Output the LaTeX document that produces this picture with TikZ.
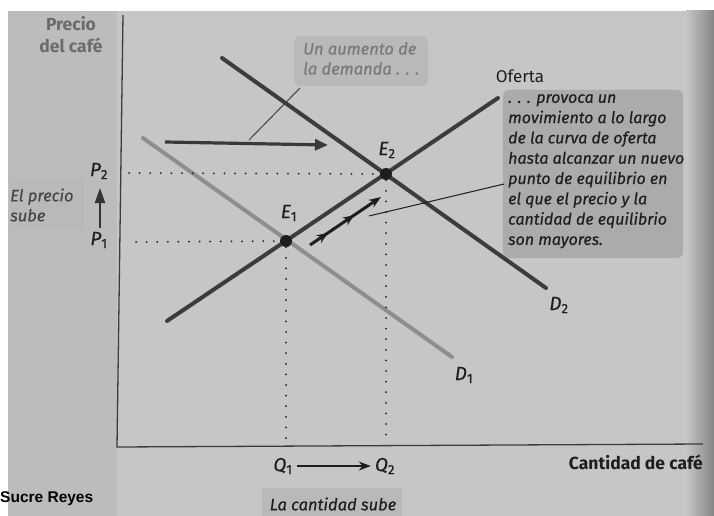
\documentclass[tikz,border=0pt]{standalone}
\usepackage{fontspec}
\setmainfont{Fira Sans}
\newfontfamily\mfont{Fira Sans}[FakeBold=0.4]
\newfontfamily\arialfont{Liberation Sans}
\usetikzlibrary{arrows.meta,decorations.markings}
\definecolor{bgc}{HTML}{C6C6C6}
\definecolor{bgleft}{HTML}{BCBCBC}
\definecolor{boxA}{HTML}{B9B9B9}
\definecolor{boxB}{HTML}{ABABAB}
\definecolor{ink}{HTML}{1E1E1E}
\definecolor{darkline}{HTML}{3C3C3C}
\definecolor{lightline}{HTML}{8E8E8E}
\definecolor{edge}{HTML}{858585}
\newcommand{\eqlab}[2]{\textit{#1}\textsubscript{#2}}
\tikzset{
  curve/.style={line width=4pt, line cap=round},
  dotline/.style={line width=2pt, line cap=round, dash pattern=on 0pt off 10.6pt, ink},
  lbl/.style={font=\mfont\fontsize{19}{21}\selectfont, text=ink, inner sep=0pt},
  eqdot/.style={circle, fill=ink, minimum size=12pt, inner sep=0pt},
  callout/.style={rounded corners=6pt},
  leader/.style={line width=1pt, ink}
}
\begin{document}
\begin{tikzpicture}[x=1pt,y=-1pt]
\useasboundingbox (0,0) rectangle (714,516);
% page
\fill[white] (0,0) rectangle (714,516);
\fill[bgc] (8,11) rectangle (714,516);
\fill[bgleft] (8,11) rectangle (117,516);
\shade[left color=bgc, right color=edge] (686,11) rectangle (714,516);
% boxes
\fill[boxA, callout] (294,36) rectangle (428,86);
\fill[boxB, callout] (503,90) rectangle (683,258);
\fill[boxA] (10,178) rectangle (84,230);
\fill[boxA] (262,488) rectangle (402,516);
% axes
\coordinate (ytop) at (123,15);
\coordinate (orig) at (117,447);
\coordinate (xend) at (703,444);
\draw[line width=1.3pt, darkline] (ytop) -- (orig) -- (xend);
% curves
\coordinate (d1a) at (143,138); \coordinate (d1b) at (452,357);
\coordinate (d2a) at (222,58);  \coordinate (d2b) at (546,288);
\coordinate (sa) at (167,321);  \coordinate (sb) at (498,98);
\draw[curve, lightline] (d1a) -- (d1b);
\draw[curve, darkline] (d2a) -- (d2b);
\draw[curve, darkline] (sa) -- (sb);
% equilibrium points
\node[eqdot] (e1) at (286,241) {};
\node[eqdot] (e2) at (386,174) {};
% dotted guides
\coordinate (p2s) at (129,173);
\coordinate (p1s) at (136,242);
\coordinate (q1e) at (286,440);
\coordinate (q2e) at (386,436);
\draw[dotline] (p2s) -- (e2);
\draw[dotline] (p1s) -- (e1);
\draw[dotline] (e1) -- (q1e);
\draw[dotline] (e2) -- (q2e);
% horizontal shift arrow
\coordinate (ha) at (165,142);
\coordinate (hb) at (328,145);
\draw[line width=3.2pt, color=gray!45!black, -{Triangle[length=13pt,width=11pt]}] (ha) -- (hb);
% movement arrow along supply
\coordinate (ma) at (310,245);
\coordinate (mb) at (381,197);
\draw[line width=3pt, ink,
  decoration={markings,
    mark=at position 0.25 with {\arrow{Stealth[length=11pt,width=9pt]}},
    mark=at position 0.62 with {\arrow{Stealth[length=11pt,width=9pt]}}},
  postaction=decorate, -{Stealth[length=12pt,width=9pt]}] (ma) -- (mb);
% labels
\node[lbl] (lE1) at (289,213) {\eqlab{E}{1}};
\node[lbl] (lE2) at (387,150) {\eqlab{E}{2}};
\node[lbl] (lP2) at (99,171) {\eqlab{P}{2}};
\node[lbl] (lP1) at (99,240) {\eqlab{P}{1}};
\node[lbl] (lQ1) at (283,466) {\eqlab{Q}{1}};
\node[lbl] (lQ2) at (385,466) {\eqlab{Q}{2}};
\node[lbl] (lD1) at (464,375) {\eqlab{D}{1}};
\node[lbl] (lD2) at (559,305) {\eqlab{D}{2}};
\coordinate (pa) at (100,228);
\coordinate (pb) at (100,188);
\draw[line width=2pt, color=gray!40!black, -{Triangle[length=15pt,width=10pt]}] (pa) -- (pb);
\draw[line width=1.4pt, ink, -{Stealth[length=12pt,width=9pt]}] ([xshift=4pt]lQ1.east) -- ([xshift=-4pt]lQ2.west);
\node[inner sep=0pt, font=\fontsize{17}{19}\selectfont, text=ink] (oferta) at (520,76) {Oferta};
\node[inner sep=0pt, font=\bfseries\fontsize{17.5}{22}\selectfont, text=gray!85!black, align=center] (ptitle) at (71,35) {Precio\\del café};
\node[inner sep=0pt, anchor=east, font=\bfseries\fontsize{17.5}{19}\selectfont, text=ink] (xtitle) at (703,462) {Cantidad de café};
\node[inner sep=0pt, anchor=west, font=\mfont\itshape\fontsize{16.5}{20}\selectfont, text=gray!55!black, align=left] (precsube) at (10,205) {El precio\\sube};
\node[inner sep=0pt, font=\mfont\itshape\fontsize{16.5}{18}\selectfont, text=ink] (cantsube) at (333,504) {La cantidad sube};
\node[inner sep=0pt, anchor=north west, font=\mfont\itshape\fontsize{16.5}{20}\selectfont, text=gray!95!black, align=left] (aumento) at (303,42) {Un aumento de\\la demanda . . .};
\node[inner sep=0pt, anchor=north west, font=\mfont\itshape\fontsize{16}{20.3}\selectfont, text=ink, align=left] (provoca) at (508,94) {. . . provoca un\\movimiento a lo largo\\de la curva de oferta\\hasta alcanzar un nuevo\\punto de equilibrio en\\el que el precio y la\\cantidad de equilibrio\\son mayores.};
% leaders
\coordinate (l1a) at (300,88); \coordinate (l1b) at (249,140);
\draw[leader, color=gray!50!black] (l1a) -- (l1b);
\coordinate (l2a) at (504,184); \coordinate (l2b) at (369,216);
\draw[leader] (l2a) -- (l2b);
% credit
\node[inner sep=0pt, anchor=west, font=\arialfont\bfseries\fontsize{15.5}{17}\selectfont, text=black] (credit) at (0,499) {Sucre Reyes};
\end{tikzpicture}
\end{document}
